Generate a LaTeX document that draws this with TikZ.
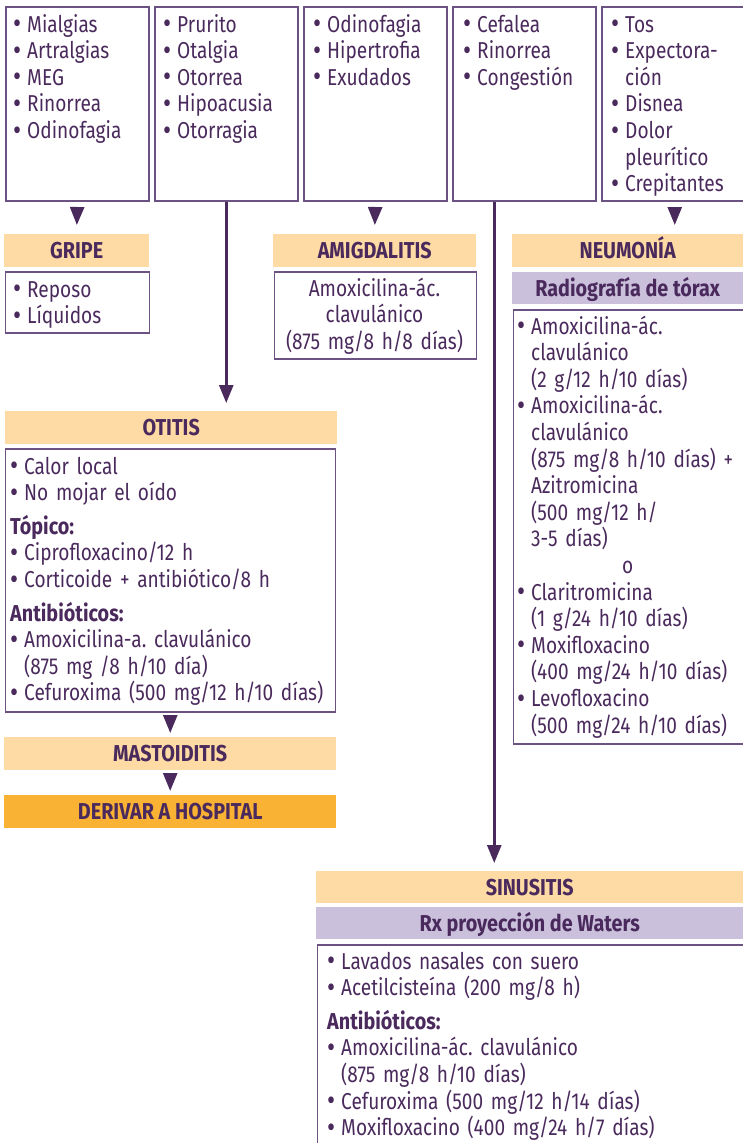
\documentclass[tikz,border=0pt]{standalone}
\usepackage{fontspec}
\usepackage{graphicx}
\usetikzlibrary{arrows.meta}
\setmainfont{Fira Sans}[FakeStretch=0.83, BoldFeatures={FakeStretch=0.86}]
\definecolor{dk}{HTML}{4A2A5C}
\definecolor{bd}{HTML}{6C5283}
\definecolor{hd}{HTML}{FEDBA4}
\definecolor{hot}{HTML}{F9B234}
\definecolor{lav}{HTML}{CAC0DC}
\frenchspacing
\newcommand\bdfont{\fontsize{23}{26.6}\selectfont}
\newcommand\hdfont{\bfseries\fontsize{23}{26.6}\selectfont}
\newcommand\bu{\makebox[14pt][l]{\raisebox{-1.6pt}{\scalebox{1.3}{•}}}}
\newcommand\ind{\hspace*{14pt}}
\tikzset{
  box/.style={draw=bd, line width=1.5pt, inner sep=0pt, anchor=north west},
  bar/.style={fill=#1, inner sep=0pt, anchor=north west, text=dk, font=\hdfont,
    text height=15.8pt, text depth=0pt},
  list/.style={anchor=base west, align=left, text width=420pt, inner sep=0pt,
    text=dk, font=\bdfont},
  conn/.style={draw=dk, line width=2.6pt, -{Triangle[width=14pt,length=18pt]}},
}
\begin{document}
\begin{tikzpicture}[x=1pt, y={(0pt,-1pt)}]
\path[use as bounding box, clip] (0,0) rectangle (743,1143);

% symptom boxes
\node[box, minimum width=143pt, minimum height=194pt] (b1) at (5,6) {};
\node[box, minimum width=143pt, minimum height=194pt] (b2) at (154,6) {};
\node[box, minimum width=143pt, minimum height=194pt] (b3) at (303,6) {};
\node[box, minimum width=143pt, minimum height=194pt] (b4) at (452,6) {};
\node[box, minimum width=146pt, minimum height=194pt] (b5) at (601,6) {};

\node[list] (t1) at (13,32) {\bu Mialgias\\ \bu Artralgias\\ \bu MEG\\ \bu Rinorrea\\ \bu Odinofagia};
\node[list] (t2) at (163,32) {\bu Prurito\\ \bu Otalgia\\ \bu Otorrea\\ \bu Hipoacusia\\ \bu Otorragia};
\node[list] (t3) at (313,32) {\bu Odinofagia\\ \bu Hipertrofia\\ \bu Exudados};
\node[list] (t4) at (463,32) {\bu Cefalea\\ \bu Rinorrea\\ \bu Congestión};
\node[list] (t5) at (611,32) {\bu Tos\\ \bu Expectora-\\ \ind ción\\ \bu Disnea\\ \bu Dolor\\ \ind pleurítico\\ \bu Crepitantes};

% diagnosis bars
\node[bar=hd, minimum width=145pt, minimum height=33pt] (gripe) at (4,234) {GRIPE};
\node[bar=hd, minimum width=203pt, minimum height=33pt] (amig) at (273,234) {AMIGDALITIS};
\node[bar=hd, minimum width=231pt, minimum height=33pt] (neum) at (512,234) {NEUMONÍA};
\node[bar=lav, minimum width=231pt, minimum height=32pt] (radio) at (512,272) {Radiografía de tórax};
\node[bar=hd, minimum width=332pt, minimum height=33pt] (otitis) at (5,411) {OTITIS};
\node[bar=hd, minimum width=332pt, minimum height=33pt] (mast) at (4,737) {MASTOIDITIS};
\node[bar=hot, minimum width=332pt, minimum height=33pt] (deriv) at (4,795) {DERIVAR A HOSPITAL};
\node[bar=hd, minimum width=427pt, minimum height=32pt] (sinus) at (316,871) {SINUSITIS};
\node[bar=lav, minimum width=427pt, minimum height=32pt] (rx) at (316,907) {Rx proyección de Waters};

% treatment boxes
\node[box, minimum width=144pt, minimum height=61pt] (gripeC) at (4.5,271) {};
\node[box, minimum width=202pt, minimum height=87pt] (amigC) at (273.5,271) {};
\node[box, minimum width=240pt, minimum height=434pt] (neumC) at (512.5,309) {};
\node[box, minimum width=330pt, minimum height=263pt] (otitisC) at (4.5,448) {};
\node[box, minimum width=440pt, minimum height=250pt] (sinusC) at (316.5,944) {};

\node[list] (gl) at (13,297) {\bu Reposo\\ \bu Líquidos};
\node[list, anchor=base, align=center, text width=200pt] (al) at (374.5,296)
  {Amoxicilina-ác.\\ clavulánico\\ (875 mg/8 h/8 días)};
\node[list] (nl) at (517,334) {\bu Amoxicilina-ác.\\ \ind clavulánico\\ \ind (2 g/12 h/10 días)\\
  \bu Amoxicilina-ác.\\ \ind clavulánico\\ \ind (875 mg/8 h/10 días) +\\ \ind Azitromicina\\
  \ind (500 mg/12 h/\\ \ind 3-5 días)\\ \makebox[221pt][c]{o}\\
  \bu Claritromicina\\ \ind (1 g/24 h/10 días)\\ \bu Moxifloxacino\\ \ind (400 mg/24 h/10 días)\\
  \bu Levofloxacino\\ \ind (500 mg/24 h/10 días)};
\node[list] (ol) at (10,474) {\bu Calor local\\ \bu No mojar el oído\\[7pt]
  {\bfseries Tópico:}\\ \bu Ciprofloxacino/12 h\\ \bu Corticoide + antibiótico/8 h\\[7pt]
  {\bfseries Antibióticos:}\\ \bu Amoxicilina-a. clavulánico\\ \ind (875 mg /8 h/10 día)\\
  \bu Cefuroxima (500 mg/12 h/10 días)};
\node[list] (sl) at (327,969) {\bu Lavados nasales con suero\\ \bu Acetilcisteína (200 mg/8 h)\\[7pt]
  {\bfseries Antibióticos:}\\ \bu Amoxicilina-ác. clavulánico\\ \ind (875 mg/8 h/10 días)\\
  \bu Cefuroxima (500 mg/12 h/14 días)\\ \bu Moxifloxacino (400 mg/24 h/7 días)};

% connectors
\coordinate (s4) at ([xshift=-30pt]b4.south);
\draw[conn, shorten <=7pt, shorten >=9pt] (b1.south) -- (gripe.north);
\draw[conn, shorten <=7pt, shorten >=9pt] (b3.south) -- (amig.north);
\draw[conn, shorten <=7pt, shorten >=9pt] (b5.south) -- (b5.south |- neum.north);
\draw[conn, shorten >=8pt] (b2.south) -- (b2.south |- otitis.north);
\draw[conn, shorten >=8pt] (s4) -- (s4 |- sinus.north);
\draw[conn, shorten <=4pt, shorten >=4pt] (otitisC.south) -- (otitisC.south |- mast.north);
\draw[conn, shorten <=3pt, shorten >=4pt] (mast.south) -- (mast.south |- deriv.north);
\end{tikzpicture}
\end{document}
